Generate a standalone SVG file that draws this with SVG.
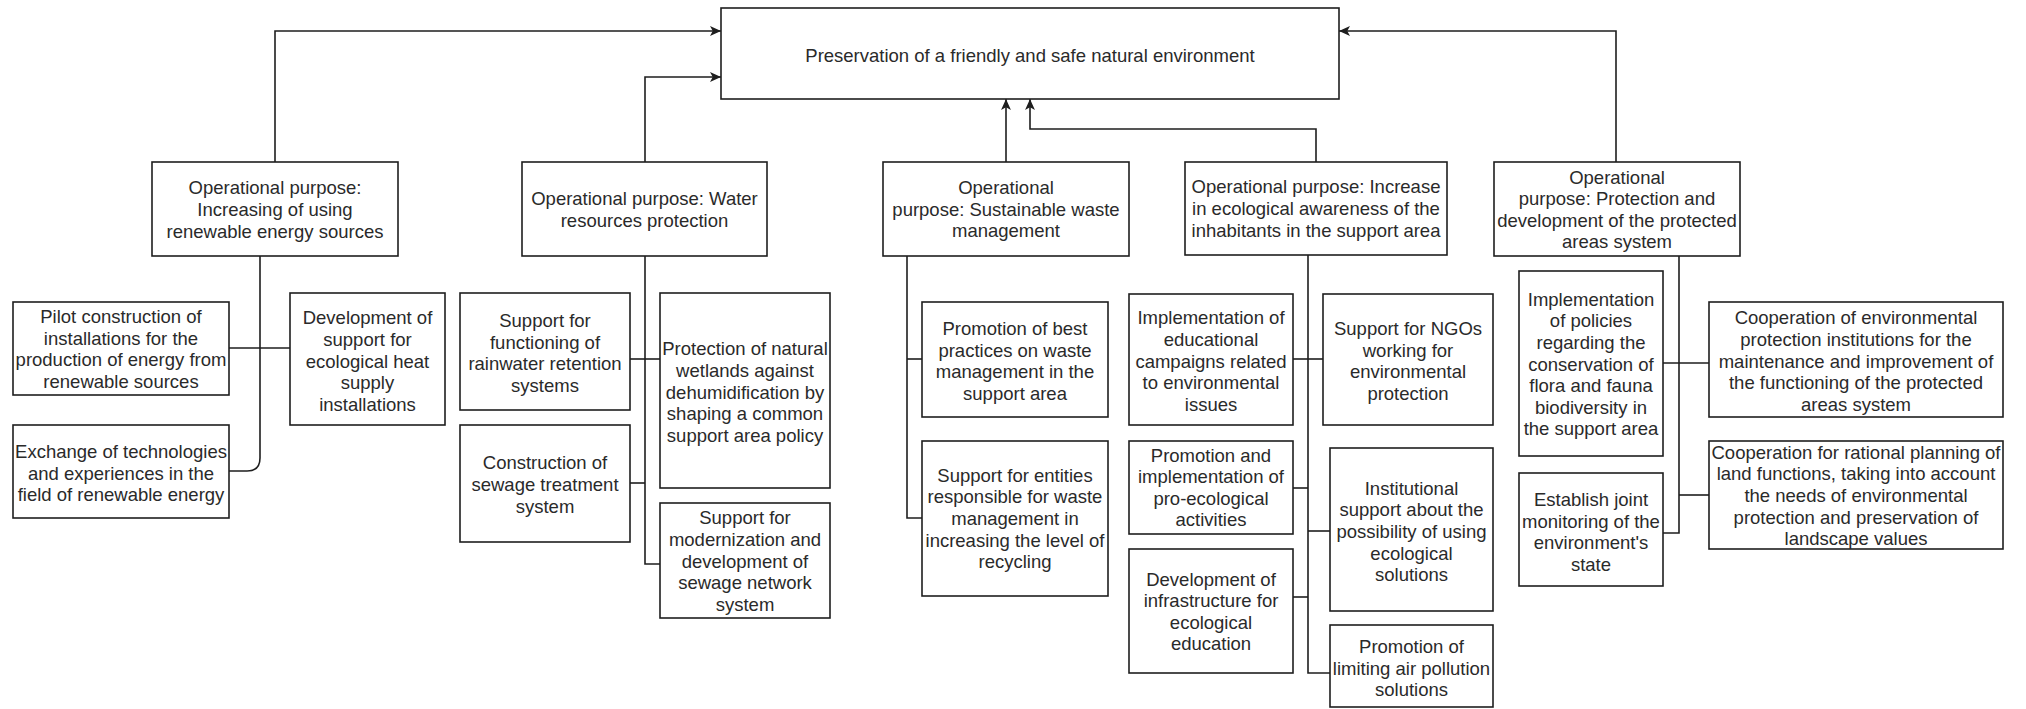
<svg xmlns="http://www.w3.org/2000/svg" width="2026" height="709" viewBox="0 0 2026 709">
  <style>
    .box { fill: #ffffff; stroke: #1e1e1e; stroke-width: 1.6; }
    .t { font-family: "Liberation Sans", Arial, sans-serif; font-size: 18.5px; fill: #2a2a2a; text-anchor: middle; }
    .c { fill: none; stroke: #1e1e1e; stroke-width: 1.6; }
    .a { marker-end: url(#arrow); }
  </style>
  <defs>
    <marker id="arrow" viewBox="0 0 10 10" markerWidth="11" markerHeight="11" refX="10" refY="5" orient="auto" markerUnits="userSpaceOnUse">
      <path d="M0,0.5 L10,5 L0,9.5 L2.5,5 Z" fill="#1e1e1e"/>
    </marker>
  </defs>
  <rect width="2026" height="709" fill="#ffffff"/>

  <!-- connectors -->
  <g id="connectors">
    <path class="c a" d="M275,162 V31 H721"/>
    <path class="c a" d="M645,162 V77 H721"/>
    <path class="c a" d="M1006,162 V99"/>
    <path class="c a" d="M1316,162 V129 H1030 V99"/>
    <path class="c a" d="M1616,162 V31 H1339"/>

    <path class="c" d="M260,256 V458 Q260,471 247,471 H229"/>
    <path class="c" d="M229,348 H290"/>

    <path class="c" d="M645,256 V564 H660"/>
    <path class="c" d="M630,359 H660"/>
    <path class="c" d="M630,483 H645"/>

    <path class="c" d="M907,256 V518 H922"/>
    <path class="c" d="M907,359 H922"/>

    <path class="c" d="M1308,255 V673 H1330"/>
    <path class="c" d="M1293,359 H1323"/>
    <path class="c" d="M1293,488 H1308"/>
    <path class="c" d="M1293,597 H1308"/>
    <path class="c" d="M1308,531 H1330"/>

    <path class="c" d="M1679,256 V533 H1663"/>
    <path class="c" d="M1663,363 H1709"/>
    <path class="c" d="M1679,495 H1709"/>
  </g>

  <!-- main goal -->
  <g id="goal">
    <rect class="box" x="721" y="8" width="618" height="91"/>
    <text class="t"><tspan x="1030" y="61.5">Preservation of a friendly and safe natural environment</tspan></text>
  </g>

  <!-- operational purposes -->
  <g id="op-renewable">
    <rect class="box" x="152" y="162" width="246" height="94"/>
    <text class="t"><tspan x="275" y="194.4">Operational purpose:</tspan><tspan x="275" y="216">Increasing of using</tspan><tspan x="275" y="237.6">renewable energy sources</tspan></text>
  </g>
  <g id="op-water">
    <rect class="box" x="522" y="162" width="245" height="94"/>
    <text class="t"><tspan x="644.5" y="205.2">Operational purpose: Water</tspan><tspan x="644.5" y="226.8">resources protection</tspan></text>
  </g>
  <g id="op-waste">
    <rect class="box" x="883" y="162" width="246" height="94"/>
    <text class="t"><tspan x="1006" y="193.9">Operational</tspan><tspan x="1006" y="215.5">purpose: Sustainable waste</tspan><tspan x="1006" y="237.1">management</tspan></text>
  </g>
  <g id="op-awareness">
    <rect class="box" x="1185" y="162" width="262" height="93"/>
    <text class="t"><tspan x="1316" y="193.4">Operational purpose: Increase</tspan><tspan x="1316" y="215">in ecological awareness of the</tspan><tspan x="1316" y="236.6">inhabitants in the support area</tspan></text>
  </g>
  <g id="op-protected">
    <rect class="box" x="1494" y="162" width="246" height="94"/>
    <text class="t"><tspan x="1617" y="183.6">Operational</tspan><tspan x="1617" y="205.2">purpose: Protection and</tspan><tspan x="1617" y="226.8">development of the protected</tspan><tspan x="1617" y="248.4">areas system</tspan></text>
  </g>

  <!-- renewable energy actions -->
  <g id="re-pilot">
    <rect class="box" x="13" y="302" width="216" height="93"/>
    <text class="t"><tspan x="121" y="323.1">Pilot construction of</tspan><tspan x="121" y="344.7">installations for the</tspan><tspan x="121" y="366.3">production of energy from</tspan><tspan x="121" y="387.9">renewable sources</tspan></text>
  </g>
  <g id="re-exchange">
    <rect class="box" x="13" y="425" width="216" height="93"/>
    <text class="t"><tspan x="121" y="457.9">Exchange of technologies</tspan><tspan x="121" y="479.5">and experiences in the</tspan><tspan x="121" y="501.1">field of renewable energy</tspan></text>
  </g>
  <g id="re-heat">
    <rect class="box" x="290" y="293" width="155" height="132"/>
    <text class="t"><tspan x="367.5" y="324.3">Development of</tspan><tspan x="367.5" y="345.9">support for</tspan><tspan x="367.5" y="367.5">ecological heat</tspan><tspan x="367.5" y="389.1">supply</tspan><tspan x="367.5" y="410.7">installations</tspan></text>
  </g>

  <!-- water actions -->
  <g id="wa-rainwater">
    <rect class="box" x="460" y="293" width="170" height="117"/>
    <text class="t"><tspan x="545" y="327.1">Support for</tspan><tspan x="545" y="348.7">functioning of</tspan><tspan x="545" y="370.3">rainwater retention</tspan><tspan x="545" y="391.9">systems</tspan></text>
  </g>
  <g id="wa-wetlands">
    <rect class="box" x="660" y="293" width="170" height="195"/>
    <text class="t"><tspan x="745" y="355.3">Protection of natural</tspan><tspan x="745" y="376.9">wetlands against</tspan><tspan x="745" y="398.5">dehumidification by</tspan><tspan x="745" y="420.1">shaping a common</tspan><tspan x="745" y="441.7">support area policy</tspan></text>
  </g>
  <g id="wa-treatment">
    <rect class="box" x="460" y="425" width="170" height="117"/>
    <text class="t"><tspan x="545" y="469.4">Construction of</tspan><tspan x="545" y="491">sewage treatment</tspan><tspan x="545" y="512.6">system</tspan></text>
  </g>
  <g id="wa-network">
    <rect class="box" x="660" y="503" width="170" height="115"/>
    <text class="t"><tspan x="745" y="524.3">Support for</tspan><tspan x="745" y="545.9">modernization and</tspan><tspan x="745" y="567.5">development of</tspan><tspan x="745" y="589.1">sewage network</tspan><tspan x="745" y="610.7">system</tspan></text>
  </g>

  <!-- waste actions -->
  <g id="ws-practices">
    <rect class="box" x="922" y="302" width="186" height="115"/>
    <text class="t"><tspan x="1015" y="335.1">Promotion of best</tspan><tspan x="1015" y="356.7">practices on waste</tspan><tspan x="1015" y="378.3">management in the</tspan><tspan x="1015" y="399.9">support area</tspan></text>
  </g>
  <g id="ws-recycling">
    <rect class="box" x="922" y="441" width="186" height="155"/>
    <text class="t"><tspan x="1015" y="481.8">Support for entities</tspan><tspan x="1015" y="503.4">responsible for waste</tspan><tspan x="1015" y="525">management in</tspan><tspan x="1015" y="546.6">increasing the level of</tspan><tspan x="1015" y="568.2">recycling</tspan></text>
  </g>

  <!-- awareness actions -->
  <g id="aw-campaigns">
    <rect class="box" x="1129" y="294" width="164" height="131"/>
    <text class="t"><tspan x="1211" y="324.3">Implementation of</tspan><tspan x="1211" y="345.9">educational</tspan><tspan x="1211" y="367.5">campaigns related</tspan><tspan x="1211" y="389.1">to environmental</tspan><tspan x="1211" y="410.7">issues</tspan></text>
  </g>
  <g id="aw-ngos">
    <rect class="box" x="1323" y="294" width="170" height="131"/>
    <text class="t"><tspan x="1408" y="335.1">Support for NGOs</tspan><tspan x="1408" y="356.7">working for</tspan><tspan x="1408" y="378.3">environmental</tspan><tspan x="1408" y="399.9">protection</tspan></text>
  </g>
  <g id="aw-activities">
    <rect class="box" x="1129" y="441" width="164" height="93"/>
    <text class="t"><tspan x="1211" y="461.6">Promotion and</tspan><tspan x="1211" y="483.2">implementation of</tspan><tspan x="1211" y="504.8">pro-ecological</tspan><tspan x="1211" y="526.4">activities</tspan></text>
  </g>
  <g id="aw-infrastructure">
    <rect class="box" x="1129" y="549" width="164" height="124"/>
    <text class="t"><tspan x="1211" y="585.6">Development of</tspan><tspan x="1211" y="607.2">infrastructure for</tspan><tspan x="1211" y="628.8">ecological</tspan><tspan x="1211" y="650.4">education</tspan></text>
  </g>
  <g id="aw-institutional">
    <rect class="box" x="1330" y="448" width="163" height="163"/>
    <text class="t"><tspan x="1411.5" y="494.8">Institutional</tspan><tspan x="1411.5" y="516.4">support about the</tspan><tspan x="1411.5" y="538">possibility of using</tspan><tspan x="1411.5" y="559.6">ecological</tspan><tspan x="1411.5" y="581.2">solutions</tspan></text>
  </g>
  <g id="aw-air">
    <rect class="box" x="1330" y="625" width="163" height="82"/>
    <text class="t"><tspan x="1411.5" y="652.9">Promotion of</tspan><tspan x="1411.5" y="674.5">limiting air pollution</tspan><tspan x="1411.5" y="696.1">solutions</tspan></text>
  </g>

  <!-- protected areas actions -->
  <g id="pa-biodiversity">
    <rect class="box" x="1519" y="271" width="144" height="185"/>
    <text class="t"><tspan x="1591" y="305.7">Implementation</tspan><tspan x="1591" y="327.3">of policies</tspan><tspan x="1591" y="348.9">regarding the</tspan><tspan x="1591" y="370.5">conservation of</tspan><tspan x="1591" y="392.1">flora and fauna</tspan><tspan x="1591" y="413.7">biodiversity in</tspan><tspan x="1591" y="435.3">the support area</tspan></text>
  </g>
  <g id="pa-institutions">
    <rect class="box" x="1709" y="302" width="294" height="115"/>
    <text class="t"><tspan x="1856" y="324.3">Cooperation of environmental</tspan><tspan x="1856" y="345.9">protection institutions for the</tspan><tspan x="1856" y="367.5">maintenance and improvement of</tspan><tspan x="1856" y="389.1">the functioning of the protected</tspan><tspan x="1856" y="410.7">areas system</tspan></text>
  </g>
  <g id="pa-monitoring">
    <rect class="box" x="1519" y="473" width="144" height="113"/>
    <text class="t"><tspan x="1591" y="506.1">Establish joint</tspan><tspan x="1591" y="527.7">monitoring of the</tspan><tspan x="1591" y="549.3">environment's</tspan><tspan x="1591" y="570.9">state</tspan></text>
  </g>
  <g id="pa-planning">
    <rect class="box" x="1709" y="441" width="294" height="108"/>
    <text class="t"><tspan x="1856" y="458.8">Cooperation for rational planning of</tspan><tspan x="1856" y="480.4">land functions, taking into account</tspan><tspan x="1856" y="502">the needs of environmental</tspan><tspan x="1856" y="523.6">protection and preservation of</tspan><tspan x="1856" y="545.2">landscape values</tspan></text>
  </g>
</svg>
